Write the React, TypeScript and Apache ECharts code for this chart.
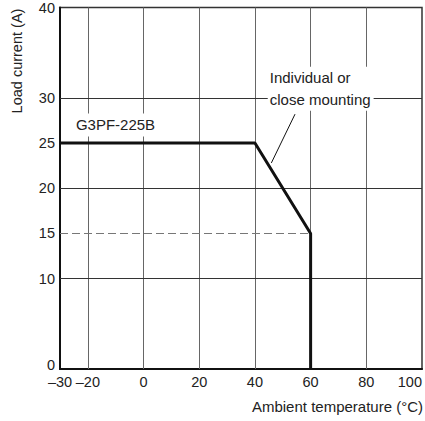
import React, { useEffect, useRef } from "react";
import * as echarts from "echarts";

const xTickLabels = [-30, -20, 0, 20, 40, 60, 80, 100];
const yTickLabels = [0, 10, 15, 20, 25, 30, 40];
const verticalGrid = [-20, 0, 20, 40, 60, 80];
const horizontalGrid = [10, 20, 30];
const deratingCurve: [number, number][] = [
  [-30, 25],
  [40, 25],
  [60, 15],
  [60, 0],
];
const dashedLevel: [number, number][] = [
  [-30, 15],
  [60, 15],
];
const modelLabel = { text: "G3PF-225B", at: [-25, 27.0] };
const mountLabel = { text: "Individual or\nclose mounting", at: [44.6, 31.0] };
const arrow = { from: [54.4, 28.2], to: [45.9, 22.8] };

const FONT = "Liberation Sans, Arial, Helvetica, sans-serif";

export default function App() {
  const ref = useRef<HTMLDivElement>(null);
  useEffect(() => {
    if (!ref.current) return;
    const chart = echarts.init(ref.current, undefined, { renderer: "svg" });
    const fmt = (v: number) => String(v).replace("-", "\u2013");
    chart.setOption({
      animation: false,
      grid: {
        left: 60,
        right: 3,
        top: 7,
        bottom: 52,
        show: true,
        borderColor: "#333",
        borderWidth: 1.5,
      },
      xAxis: {
        type: "value",
        min: -30,
        max: 100,
        interval: 10,
        axisLine: { show: true, onZero: false, lineStyle: { color: "#111", width: 2 } },
        axisTick: { show: false },
        splitLine: { show: false },
        axisLabel: {
          margin: 5,
          color: "#222",
          fontSize: 14.5,
          fontFamily: FONT,
          showMinLabel: true,
          showMaxLabel: true,
          alignMaxLabel: "right",
          formatter: (v: number) => (xTickLabels.includes(v) ? fmt(v) : ""),
        },
      },
      yAxis: {
        type: "value",
        min: 0,
        max: 40,
        interval: 5,
        axisLine: { show: true, onZero: false, lineStyle: { color: "#111", width: 2 } },
        axisTick: { show: false },
        splitLine: { show: false },
        axisLabel: {
          margin: 5,
          color: "#222",
          fontSize: 14.5,
          fontFamily: FONT,
          formatter: (v: number) =>
            v === 0 ? "{z|0}" : yTickLabels.includes(v) ? String(v) : "",
          rich: {
            z: { fontSize: 14.5, fontFamily: FONT, color: "#222", padding: [0, 0, 8, 0] },
          },
        },
      },
      graphic: [
        {
          type: "text",
          x: 17,
          y: 61,
          rotation: Math.PI / 2,
          style: {
            text: "Load current (A)",
            fontSize: 14.5,
            fontFamily: FONT,
            fill: "#222",
            textAlign: "center",
            textVerticalAlign: "middle",
          },
        },
        {
          type: "text",
          right: 2,
          top: 399,
          style: {
            text: "Ambient temperature (\u00B0C)",
            fontSize: 15,
            fontFamily: FONT,
            fill: "#222",
          },
        },
      ],
      series: [
        {
          type: "line",
          data: [],
          silent: true,
          markLine: {
            silent: true,
            symbol: "none",
            label: { show: false },
            animation: false,
            data: [
              ...verticalGrid.map((x) => ({
                xAxis: x,
                lineStyle: { color: "#666", width: 1, type: "solid" },
              })),
              ...horizontalGrid.map((y) => ({
                yAxis: y,
                lineStyle: { color: "#333", width: 1, type: "solid" },
              })),
              [
                { coord: dashedLevel[0], lineStyle: { color: "#777", width: 1, type: [8, 4] } },
                { coord: dashedLevel[1] },
              ],
            ],
          },
        },
        {
          type: "line",
          data: deratingCurve,
          symbol: "none",
          silent: true,
          lineStyle: { color: "#111", width: 3 },
          z: 5,
          markPoint: {
            silent: true,
            symbol: "circle",
            symbolSize: 0,
            data: [
              {
                coord: mountLabel.at,
                label: {
                  show: true,
                  position: "right",
                  distance: 0,
                  formatter: mountLabel.text,
                  color: "#222",
                  fontSize: 15,
                  fontFamily: FONT,
                  lineHeight: 22,
                  align: "left",
                  backgroundColor: "#fff",
                  padding: [0, 3, 0, 2],
                },
              },
              {
                coord: modelLabel.at,
                label: {
                  show: true,
                  position: "right",
                  distance: 0,
                  formatter: modelLabel.text,
                  color: "#222",
                  fontSize: 15,
                  fontFamily: FONT,
                  backgroundColor: "#fff",
                  padding: [4, 2, 4, 2],
                },
              },
            ],
          },
          markLine: {
            silent: true,
            symbol: ["none", "arrow"],
            symbolSize: [0, 8],
            label: { show: false },
            lineStyle: { color: "#111", width: 1, type: "solid" },
            data: [[{ coord: arrow.from }, { coord: arrow.to }]],
          },
        },
      ],
    });
    return () => chart.dispose();
  }, []);
  return (
    <div
      ref={ref}
      style={{ position: "fixed", left: 0, top: 0, width: 425, height: 421, background: "#fff" }}
    />
  );
}
